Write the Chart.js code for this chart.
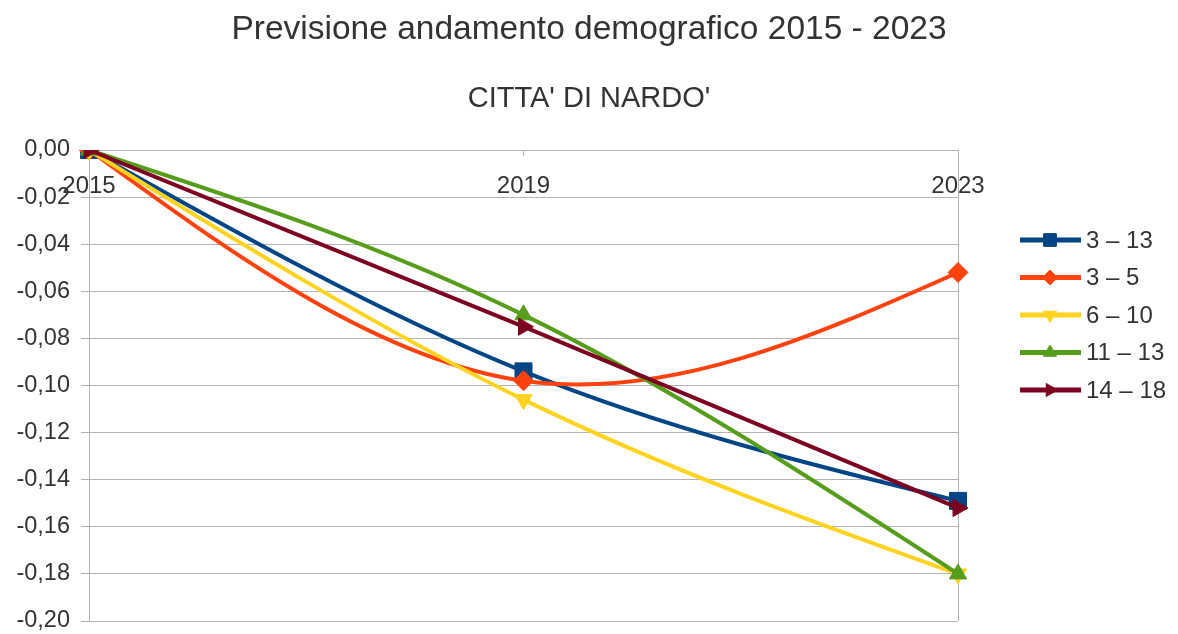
<!DOCTYPE html>
<html>
<head>
<meta charset="utf-8">
<script src="https://cdn.jsdelivr.net/npm/chart.js@4/dist/chart.umd.min.js"></script>
<style>
html,body{margin:0;padding:0;background:#fff;}
#wrap{width:1178px;height:634px;}
</style>
</head>
<body>
<div id="wrap"><canvas id="c" width="1178" height="634"></canvas></div>
<script>
const categories = ['2015', '2019', '2023'];
const seriesLabels = ['3 – 13', '3 – 5', '6 – 10', '11 – 13', '14 – 18'];
const s3_13  = [0, -0.094, -0.149];
const s3_5   = [0, -0.098, -0.052];
const s6_10  = [0, -0.106, -0.180];
const s11_13 = [0, -0.070, -0.180];
const s14_18 = [0, -0.075, -0.152];
const yTickValues = [0, -0.02, -0.04, -0.06, -0.08, -0.10, -0.12, -0.14, -0.16, -0.18, -0.20];
const titleText = 'Previsione andamento demografico 2015 - 2023';
const subtitleText = "CITTA' DI NARDO'";

const seriesValues = [s3_13, s3_5, s6_10, s11_13, s14_18];
const colors = ['#004586', '#ff420e', '#ffd320', '#579d1c', '#7e0021'];
const styles = [
  {pointStyle: 'rect', rotation: 0, r: 12},
  {pointStyle: 'rectRot', rotation: 0, r: 10},
  {pointStyle: 'triangle', rotation: 180, r: 10},
  {pointStyle: 'triangle', rotation: 0, r: 10},
  {pointStyle: 'triangle', rotation: 90, r: 10}
];
const FONT = "'Liberation Sans', Arial, sans-serif";
const TXT = '#333333';
const GRID = '#b3b3b3';

const datasets = seriesValues.map((vals, i) => ({
  label: seriesLabels[i],
  data: vals,
  borderColor: colors[i],
  backgroundColor: colors[i],
  borderWidth: 4,
  tension: 0.4,
  fill: false,
  pointStyle: styles[i].pointStyle,
  rotation: styles[i].rotation,
  pointRadius: styles[i].r,
  pointBorderWidth: 1,
  pointBorderColor: colors[i],
  pointBackgroundColor: colors[i],
  order: seriesValues.length - i
}));

// Natural cubic spline control points (like the office-suite "cubic spline" lines),
// computed from the pixel positions the library's scales give each point.
const naturalSplinePlugin = {
  id: 'naturalSpline',
  beforeDatasetDraw(chart, args) {
    const meta = args.meta;
    const line = meta.dataset;
    if (!line) return;
    line.updateControlPoints(chart.chartArea, 'x');
    const pts = meta.data;
    const n = pts.length;
    if (n < 3) return;
    const x = pts.map(p => p.x), y = pts.map(p => p.y);
    const h = [];
    for (let i = 0; i < n - 1; i++) h.push(x[i + 1] - x[i]);
    // solve tridiagonal for second derivatives M (natural: M0 = Mn-1 = 0)
    const M = new Array(n).fill(0);
    const a = [], b = [], c = [], d = [];
    for (let i = 1; i < n - 1; i++) {
      a.push(h[i - 1]); b.push(2 * (h[i - 1] + h[i])); c.push(h[i]);
      d.push(6 * ((y[i + 1] - y[i]) / h[i] - (y[i] - y[i - 1]) / h[i - 1]));
    }
    const m = b.length;
    for (let i = 1; i < m; i++) {
      const w = a[i] / b[i - 1];
      b[i] -= w * c[i - 1];
      d[i] -= w * d[i - 1];
    }
    const sol = new Array(m);
    for (let i = m - 1; i >= 0; i--) sol[i] = (d[i] - (i < m - 1 ? c[i] * sol[i + 1] : 0)) / b[i];
    for (let i = 0; i < m; i++) M[i + 1] = sol[i];
    for (let i = 0; i < n - 1; i++) {
      const hi = h[i];
      const sl = (y[i + 1] - y[i]) / hi - hi * (2 * M[i] + M[i + 1]) / 6;
      const sr = (y[i + 1] - y[i]) / hi + hi * (M[i] + 2 * M[i + 1]) / 6;
      pts[i].cp2x = x[i] + hi / 3;
      pts[i].cp2y = y[i] + sl * hi / 3;
      pts[i + 1].cp1x = x[i + 1] - hi / 3;
      pts[i + 1].cp1y = y[i + 1] - sr * hi / 3;
    }
    pts[0].cp1x = x[0]; pts[0].cp1y = y[0];
    pts[n - 1].cp2x = x[n - 1]; pts[n - 1].cp2y = y[n - 1];
  }
};

const legendPlugin = {
  id: 'customLegend',
  afterDraw(chart) {
    const ctx = chart.ctx;
    ctx.save();
    chart.data.datasets.forEach((ds, i) => {
      const y = 240 + i * 37.5;
      ctx.strokeStyle = ds.borderColor;
      ctx.lineWidth = 5;
      ctx.beginPath();
      ctx.moveTo(1020, y);
      ctx.lineTo(1081, y);
      ctx.stroke();
      ctx.fillStyle = ds.borderColor;
      ctx.strokeStyle = ds.borderColor;
      ctx.lineWidth = 1;
      Chart.helpers.drawPoint(ctx, {pointStyle: ds.pointStyle, rotation: ds.rotation, radius: ds.pointRadius * 0.75, borderWidth: 1}, 1050, y);
      ctx.fillStyle = TXT;
      ctx.font = '24px ' + FONT;
      ctx.textBaseline = 'middle';
      ctx.textAlign = 'left';
      ctx.fillText(ds.label, 1086, y + 1);
    });
    ctx.restore();
  }
};

const fmt = v => (Math.abs(v) < 1e-9 ? '0,00' : v.toFixed(2).replace('.', ','));

new Chart(document.getElementById('c'), {
  type: 'line',
  data: { labels: categories, datasets: datasets },
  options: {
    responsive: false,
    animation: false,
    devicePixelRatio: 1,
    layout: { padding: { left: 0, right: 0, top: 0, bottom: 8 } },
    plugins: {
      legend: { display: false },
      tooltip: { enabled: false },
      title: {
        display: true, text: titleText, color: TXT,
        font: { family: FONT, size: 33.5, weight: 'normal' },
        padding: { top: 10, bottom: 31 }
      },
      subtitle: {
        display: true, text: subtitleText, color: TXT,
        font: { family: FONT, size: 29, weight: 'normal' },
        padding: { top: 0, bottom: 34 }
      }
    },
    scales: {
      y: {
        min: -0.2, max: 0,
        afterBuildTicks(scale) { scale.ticks = yTickValues.map(v => ({ value: v })); },
        afterFit(scale) { scale.width = 89; scale.paddingTop = 0; scale.paddingBottom = 0; },
        ticks: {
          color: TXT, padding: 11,
          font: { family: FONT, size: 23.5 },
          callback: v => fmt(v)
        },
        grid: { color: GRID, lineWidth: 1, tickLength: 8, tickColor: GRID },
        border: { color: GRID, width: 1 }
      },
      yRight: {
        position: 'right',
        min: -0.2, max: 0,
        afterFit(scale) { scale.width = 220; scale.paddingTop = 0; scale.paddingBottom = 0; },
        ticks: { display: false },
        grid: { display: false, drawOnChartArea: false },
        border: { display: false }
      },
      x: {
        position: { y: 0 },
        offset: false,
        ticks: {
          color: TXT, padding: 17, maxRotation: 0, autoSkip: false,
          font: { family: FONT, size: 24 }
        },
        grid: {
          color: ctx => (ctx.index === 1 ? 'rgba(0,0,0,0)' : GRID),
          tickColor: GRID, lineWidth: 1, tickLength: 5
        },
        border: { color: GRID, width: 1 }
      }
    }
  },
  plugins: [naturalSplinePlugin, legendPlugin]
});
</script>
</body>
</html>
